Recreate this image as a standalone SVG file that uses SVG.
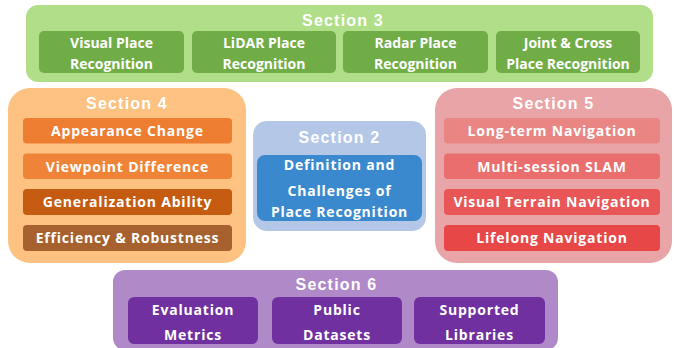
<svg xmlns="http://www.w3.org/2000/svg" width="681" height="348" viewBox="0 0 681 348">
<style>
.t{font-family:"Liberation Sans",Arial,sans-serif;font-weight:bold;font-size:16px;letter-spacing:1.2px;fill:#FFFFFF;text-anchor:middle}
.s{font-family:"Open Sans","Noto Sans",sans-serif;font-weight:bold;font-size:14px;fill:#FFFFFF;text-anchor:middle}
.w{font-family:"Open Sans","Noto Sans",sans-serif;font-weight:bold;font-size:14px;letter-spacing:0.8px;fill:#FFFFFF;text-anchor:middle}
</style>
<rect width="681" height="348" fill="#FFFFFF"/>
<g id="section3">
<rect x="26" y="5" width="627" height="77" rx="12" fill="#B1DE88"/>
<text class="t" x="343" y="25.5">Section 3</text>
<g id="vpr"><rect x="39" y="31" width="145" height="42" rx="5" fill="#70AD47"/>
<text class="s" x="111.5" y="48">Visual Place</text><text class="s" x="111.5" y="69">Recognition</text></g>
<g id="lpr"><rect x="192" y="31" width="144" height="42" rx="5" fill="#70AD47"/>
<text class="s" x="264" y="48">LiDAR Place</text><text class="s" x="264" y="69">Recognition</text></g>
<g id="rpr"><rect x="343" y="31" width="145" height="42" rx="5" fill="#70AD47"/>
<text class="s" x="415.5" y="48">Radar Place</text><text class="s" x="415.5" y="69">Recognition</text></g>
<g id="jpr"><rect x="496" y="31" width="144" height="42" rx="5" fill="#70AD47"/>
<text class="s" x="568" y="48">Joint &amp; Cross</text><text class="s" x="568" y="69">Place Recognition</text></g>
</g>
<g id="section4">
<rect x="8" y="88" width="238" height="175" rx="22" fill="#FDC182"/>
<text class="t" x="127" y="108.5">Section 4</text>
<g id="s4a"><rect x="23" y="118" width="209" height="25.5" rx="4" fill="#ED7D31"/><text class="w" x="127.5" y="136">Appearance Change</text></g>
<g id="s4b"><rect x="23" y="153.5" width="209" height="25.5" rx="4" fill="#EF8438"/><text class="w" x="127.5" y="171.5">Viewpoint Difference</text></g>
<g id="s4c"><rect x="23" y="189" width="209" height="26" rx="4" fill="#C55A11"/><text class="w" x="127.5" y="207">Generalization Ability</text></g>
<g id="s4d"><rect x="23" y="225" width="209" height="26" rx="4" fill="#A6612E"/><text class="w" x="127.5" y="243">Efficiency &amp; Robustness</text></g>
</g>
<g id="section2">
<rect x="253" y="121" width="173" height="110" rx="14" fill="#B4C7E7"/>
<text class="t" x="339.5" y="143">Section 2</text>
<g id="s2a"><rect x="257" y="155" width="165" height="66" rx="8" fill="#3A89CE"/>
<text class="w" x="339.5" y="170">Definition and</text>
<text class="w" x="339.5" y="196">Challenges of</text>
<text class="w" x="339.5" y="217">Place Recognition</text></g>
</g>
<g id="section5">
<rect x="435" y="88" width="237" height="175" rx="22" fill="#E8A4A6"/>
<text class="t" x="553.5" y="108.5">Section 5</text>
<g id="s5a"><rect x="444" y="118" width="216" height="25.5" rx="4" fill="#E98684"/><text class="w" x="552" y="136">Long-term Navigation</text></g>
<g id="s5b"><rect x="444" y="153.5" width="216" height="25.5" rx="4" fill="#E96E6D"/><text class="w" x="552" y="171.5">Multi-session SLAM</text></g>
<g id="s5c"><rect x="444" y="189" width="216" height="26" rx="4" fill="#E85657"/><text class="w" x="552" y="207">Visual Terrain Navigation</text></g>
<g id="s5d"><rect x="444" y="225" width="216" height="26" rx="4" fill="#E84747"/><text class="w" x="552" y="243">Lifelong Navigation</text></g>
</g>
<g id="section6">
<rect x="113" y="270" width="445" height="80" rx="12" fill="#B08AC8"/>
<text class="t" x="336.5" y="290">Section 6</text>
<g id="s6a"><rect x="128" y="297" width="130" height="47" rx="6" fill="#7030A0"/>
<text class="w" x="193" y="315">Evaluation</text><text class="w" x="193" y="340">Metrics</text></g>
<g id="s6b"><rect x="272" y="297" width="130" height="47" rx="6" fill="#7030A0"/>
<text class="w" x="337" y="315">Public</text><text class="w" x="337" y="340">Datasets</text></g>
<g id="s6c"><rect x="414" y="297" width="131" height="47" rx="6" fill="#7030A0"/>
<text class="w" x="479.5" y="315">Supported</text><text class="w" x="479.5" y="340">Libraries</text></g>
</g>
<g id="connectors"></g>
</svg>
